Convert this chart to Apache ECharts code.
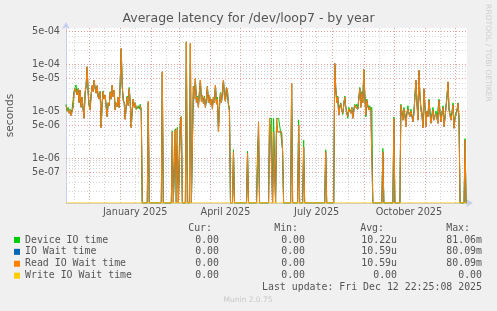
<!DOCTYPE html>
<html>
<head>
<meta charset="utf-8">
<script src="https://cdn.jsdelivr.net/npm/echarts@6/dist/echarts.min.js"></script>
<style>
  html, body { margin: 0; padding: 0; background: #f0f0f0; }
  #chart { width: 497px; height: 311px; }
</style>
</head>
<body>
<div id="chart"></div>
<script>
// sample day, counted from 2024-11-08
const days = [
  0, 1, 2, 3, 4, 5, 6, 7, 8, 9, 10, 11, 12, 13, 14, 15, 16, 17, 18, 19,
  20, 21, 22, 23, 24, 25, 26, 27, 28, 29, 30, 31, 32, 33, 34, 35, 36, 37, 38, 39,
  40, 41, 42, 43, 44, 45, 46, 47, 48, 49, 50, 51, 52, 53, 54, 55, 56, 57, 58, 59,
  60, 61, 62, 63, 64, 65, 66, 67, 68, 69, 70, 71, 72, 73, 74, 75,
  76, 81, 82, 83, 95, 96, 97, 105, 106, 107, 108, 109, 110, 111, 112, 113, 114, 115, 116, 119,
  120, 121, 123, 124, 125, 126,
  127, 128, 129, 130, 131, 132, 133, 134, 135, 136, 137, 138, 139, 140, 141, 142, 143, 144, 145, 146,
  147, 148, 149, 150, 151, 152, 153, 154, 155, 156, 157, 158, 159, 160, 161, 162, 163,
  164, 166, 167, 168, 180, 181, 182, 190, 191, 192, 193, 202,
  203, 204, 205, 206, 207, 208, 209, 210, 211, 212, 213, 214, 215, 216, 217,
  224, 225, 226, 231, 232, 233, 236, 237, 238, 258, 259, 260, 267,
  268, 269, 270, 271, 272, 273, 274, 275, 276, 277, 278, 279, 280, 281, 282, 283, 284, 285, 286, 287,
  288, 289, 290, 291, 292, 293, 294, 295, 296, 297, 298, 299, 300, 301, 302, 303, 304, 305,
  306, 315, 316, 317, 326, 327, 328, 333,
  334, 335, 336, 337, 338, 339, 340, 341, 342, 343, 344, 345, 346, 347, 348, 349, 350, 351, 352, 353,
  354, 355, 356, 357, 358, 359, 360, 361, 362, 363, 364, 365, 366, 367, 368, 369, 370, 371, 372, 373,
  374, 375, 376, 377, 378, 379, 380, 381, 382, 383, 384, 385, 386, 387, 388, 389, 390, 391, 392,
  393, 397, 398, 399, 400
];

// IO wait time (seconds) - read IO wait is the same curve
const ioWait = [
  1.3e-5, 1.1e-5, 1.2e-5, 9e-6, 1.1e-5, 8e-6, 1.0e-5, 1.2e-5, 2.5e-5, 3.0e-5, 3.3e-5, 2.2e-5, 3.0e-5, 1.5e-5, 2.8e-5, 1.2e-5, 2.0e-5, 1.1e-5, 7e-6, 2.5e-5,
  3.5e-5, 8.8e-5, 2.5e-5, 1.3e-5, 1.05e-5, 2.2e-5, 3.5e-5, 2.6e-5, 4.6e-5, 3.0e-5, 2.4e-5, 3.5e-5, 2.0e-5, 1.8e-5, 2.6e-5, 4.4e-6, 1.5e-5, 2.6e-5, 1.8e-5, 2.2e-5,
  1.2e-5, 7.6e-6, 1.5e-5, 1.3e-5, 2.5e-5, 1.8e-5, 3.6e-5, 2.0e-5, 2.8e-5, 1.05e-5, 1.5e-5, 1.24e-5, 2.0e-5, 1.2e-5, 4e-5, 2.16e-4, 3.5e-5, 1.7e-5, 1.5e-5, 6.7e-6,
  1.3e-5, 2.0e-5, 1.3e-5, 3.0e-5, 1.5e-5, 4.4e-6, 1.1e-5, 1.8e-5, 1.2e-5, 1.5e-5, 1.1e-5, 1.05e-5, 1.2e-5, 1.1e-5, 1.3e-5, 1.05e-5,
  0, 0, 1.6e-5, 0, 0, 6.9e-5, 0, 0, 3.6e-6, 0, 0, 4e-6, 0, 4.2e-6, 0, 0, 5.6e-6, 7.6e-6, 0, 0,
  3.0e-4, 0, 0, 2.76e-4, 0, 0,
  3.3e-5, 1.8e-5, 5e-5, 1.5e-5, 2e-5, 1.2e-5, 2.5e-5, 4.6e-5, 1.6e-5, 2.2e-5, 1.45e-5, 2.0e-5, 1.2e-5, 1.8e-5, 3.3e-5, 1.5e-5, 2.2e-5, 1.34e-5, 1.8e-5, 1.1e-5,
  2.0e-5, 1.5e-5, 3.6e-5, 1.4e-5, 1.8e-5, 3.6e-6, 1.2e-5, 2.4e-5, 1.5e-5, 2.6e-5, 4.6e-5, 2.0e-5, 1.6e-5, 3.2e-5, 2.8e-5, 1.34e-5, 1.0e-5,
  0, 0, 1.35e-6, 0, 0, 1.26e-6, 0, 0, 0, 5.9e-6, 0, 0,
  7e-6, 3.6e-6, 3.6e-6, 0, 3.6e-6, 3.6e-6, 0, 7e-6, 3.6e-6, 3.6e-6, 3.6e-6, 3.6e-6, 3.6e-6, 1.35e-6, 0,
  0, 3.9e-5, 0, 0, 5e-6, 0, 0, 1.7e-6, 0, 0, 1.35e-6, 0, 0,
  1.04e-4, 3e-5, 1.5e-5, 2e-5, 8.2e-6, 1.2e-5, 1.45e-5, 1.0e-5, 9e-6, 1.3e-5, 2e-5, 1.2e-5, 9e-6, 7.6e-6, 1.1e-5, 1.1e-5, 9e-6, 1.2e-5, 7e-6, 1.0e-5,
  1.34e-5, 1.2e-5, 1.3e-5, 1.1e-5, 1.8e-5, 3e-5, 1.2e-5, 2.5e-5, 1.5e-5, 7.7e-5, 2.2e-5, 8.2e-6, 1.7e-5, 1.3e-5, 1.05e-5, 1.2e-5, 1.0e-5, 1.1e-5,
  0, 0, 1.35e-6, 0, 0, 7e-6, 0, 0,
  1.34e-5, 9e-6, 6.4e-6, 1.1e-5, 8e-6, 4.6e-6, 9e-6, 1.1e-5, 9e-6, 7.6e-6, 1.0e-5, 8e-6, 5.9e-6, 9e-6, 2e-5, 4.6e-5, 1.5e-5, 6.4e-6, 7.4e-5, 2.0e-5,
  1.1e-5, 8e-6, 4.4e-6, 3e-5, 1.2e-5, 4.6e-6, 1.0e-5, 7.6e-6, 1.7e-5, 9e-6, 5.5e-6, 8e-6, 1.05e-5, 6.4e-6, 8e-6, 9e-6, 7e-6, 5.5e-6, 1.7e-5, 9e-6,
  5.9e-6, 9e-6, 1.2e-5, 4.6e-6, 7e-6, 7.6e-6, 2e-5, 4.2e-5, 1.05e-5, 8e-6, 6.4e-6, 9e-6, 1.34e-5, 4.3e-6, 7e-6, 7.6e-6, 1.0e-5, 1.45e-5, 6.4e-6,
  0, 0, 2.4e-6, 0, 0
];

// device IO time (seconds)
const deviceIO = [
  1.4e-5, 1.0e-5, 1.2e-5, 1.0e-5, 1.1e-5, 9e-6, 1.1e-5, 1.2e-5, 2.7e-5, 3.2e-5, 3.6e-5, 2.2e-5, 3.0e-5, 1.6e-5, 2.8e-5, 1.3e-5, 2.0e-5, 1.1e-5, 7.5e-6, 2.4e-5,
  3.4e-5, 8.5e-5, 2.6e-5, 1.4e-5, 1.1e-5, 2.3e-5, 3.3e-5, 2.7e-5, 4.4e-5, 3.1e-5, 2.5e-5, 3.4e-5, 2.0e-5, 1.9e-5, 2.6e-5, 4.8e-6, 1.5e-5, 2.7e-5, 1.8e-5, 2.2e-5,
  1.3e-5, 8e-6, 1.5e-5, 1.3e-5, 2.6e-5, 1.8e-5, 3.4e-5, 2.1e-5, 2.7e-5, 1.1e-5, 1.5e-5, 1.3e-5, 2.0e-5, 1.2e-5, 3.8e-5, 2.1e-4, 3.6e-5, 1.8e-5, 1.5e-5, 7e-6,
  1.3e-5, 2.1e-5, 1.4e-5, 3.2e-5, 1.5e-5, 4.6e-6, 1.1e-5, 1.8e-5, 1.3e-5, 1.5e-5, 1.1e-5, 1.2e-5, 1.3e-5, 1.1e-5, 1.4e-5, 1.0e-5,
  0, 0, 1.5e-5, 0, 0, 6.5e-5, 0, 0, 3.8e-6, 0, 0, 4.2e-6, 0, 4.5e-6, 0, 0, 6.5e-6, 7.6e-6, 0, 0,
  2.9e-4, 0, 0, 2.7e-4, 0, 0,
  3.4e-5, 2.0e-5, 4.8e-5, 1.6e-5, 2.1e-5, 1.3e-5, 2.5e-5, 4.5e-5, 1.7e-5, 2.2e-5, 1.5e-5, 2.1e-5, 1.2e-5, 1.9e-5, 3.4e-5, 1.6e-5, 2.2e-5, 1.4e-5, 1.8e-5, 1.3e-5,
  2.0e-5, 1.6e-5, 3.5e-5, 1.5e-5, 2.0e-5, 4e-6, 1.3e-5, 2.5e-5, 1.6e-5, 2.7e-5, 4.4e-5, 2.2e-5, 1.7e-5, 3.0e-5, 2.9e-5, 1.4e-5, 1.2e-5,
  0, 0, 1.5e-6, 0, 0, 1.4e-6, 0, 0, 1.7e-6, 3e-6, 0, 0,
  7e-6, 7e-6, 7e-6, 0, 7e-6, 7e-6, 0, 7e-6, 7e-6, 7e-6, 7e-6, 3.6e-6, 3.6e-6, 1.5e-6, 0,
  0, 3.7e-5, 0, 0, 6.5e-6, 0, 0, 2.4e-6, 0, 0, 1.5e-6, 0, 0,
  9.8e-5, 3.2e-5, 1.6e-5, 2.1e-5, 9e-6, 1.3e-5, 1.5e-5, 1.1e-5, 8.5e-6, 1.4e-5, 2.1e-5, 1.2e-5, 1.0e-5, 7e-6, 1.2e-5, 1.1e-5, 9.5e-6, 1.2e-5, 7.5e-6, 1.1e-5,
  1.4e-5, 1.2e-5, 1.4e-5, 1.1e-5, 1.9e-5, 3.2e-5, 1.3e-5, 2.6e-5, 1.6e-5, 7.3e-5, 2.3e-5, 7.5e-6, 1.8e-5, 1.3e-5, 1.1e-5, 1.3e-5, 1.0e-5, 1.2e-5,
  0, 0, 1.6e-6, 0, 0, 7.5e-6, 0, 0,
  1.4e-5, 1.0e-5, 7e-6, 1.2e-5, 8.5e-6, 6e-6, 9e-6, 1.3e-5, 9e-6, 8e-6, 1.1e-5, 8e-6, 6.4e-6, 1.0e-5, 2.1e-5, 4.4e-5, 1.6e-5, 7e-6, 7.0e-5, 2.2e-5,
  1.2e-5, 9e-6, 5e-6, 2.9e-5, 1.3e-5, 5.5e-6, 1.0e-5, 8e-6, 1.8e-5, 1.0e-5, 6.5e-6, 9e-6, 1.2e-5, 7e-6, 8e-6, 1.0e-5, 7e-6, 6.5e-6, 1.8e-5, 1.0e-5,
  6.5e-6, 9e-6, 1.3e-5, 5.5e-6, 8e-6, 8e-6, 2.2e-5, 4.0e-5, 1.1e-5, 9e-6, 7e-6, 1.0e-5, 1.5e-5, 5e-6, 8e-6, 8e-6, 1.1e-5, 1.5e-5, 7e-6,
  0, 0, 2.6e-6, 0, 0
];

// write IO wait stays at zero for the whole year
const writeDays = [0, 400];
const writeWait = [0, 0];

const seriesNames = ['Device IO time', 'IO Wait time', 'Read IO Wait time', 'Write IO Wait time'];
const seriesColors = ['#00cc00', '#0066b3', '#ff8000', '#ffcc00'];

const statCur = ['0.00', '0.00', '0.00', '0.00'];
const statMin = ['0.00', '0.00', '0.00', '0.00'];
const statAvg = ['10.22u', '10.59u', '10.59u', '0.00'];
const statMax = ['81.06m', '80.09m', '80.09m', '0.00'];

const yLabelValues = [5e-7, 1e-6, 5e-6, 1e-5, 5e-5, 1e-4, 5e-4];
const xLabelDates = [[2025, 0, 16], [2025, 3, 16], [2025, 6, 16], [2025, 9, 16]];
const monthNames = ['January', 'February', 'March', 'April', 'May', 'June', 'July',
  'August', 'September', 'October', 'November', 'December'];

const DAY = 86400000;
const t0 = new Date(2024, 10, 8).getTime();
const xMin = new Date(2024, 10, 7, 22, 25).getTime();
const xMax = new Date(2025, 11, 12, 22, 25).getTime();
const yMin = 1.1e-7;
const yMax = 5.9e-4;

// zero can't sit on a log axis, rrdtool puts it on the bottom edge
function toPoints(ds, vs) {
  return ds.map((d, i) => [t0 + d * DAY, vs[i] > 0 ? vs[i] : yMin]);
}

// grid lines (rrdtool style)
const majorColor = '#e6a0a0';
const minorColor = '#d2d2d2';
let gridLines = [];
function hLine(v, color) {
  gridLines.push([{ coord: [xMin, v], lineStyle: { color: color } }, { coord: [xMax, v] }]);
}
for (let e = -7; e <= -4; e++) {
  [2, 3, 4, 6, 7, 8, 9].forEach(k => {
    const v = k * Math.pow(10, e);
    if (v > yMin && v < yMax) hLine(v, minorColor);
  });
}
yLabelValues.forEach(v => hLine(v, majorColor));
for (let m = 10; m <= 22; m++) {
  const mid = new Date(2024, m, 16).getTime();
  if (mid > xMin && mid < xMax) gridLines.push({ xAxis: mid, lineStyle: { color: minorColor } });
  const first = new Date(2024, m + 1, 1).getTime();
  if (first > xMin && first < xMax) gridLines.push({ xAxis: first, lineStyle: { color: majorColor } });
}

function expLabel(v) {
  const parts = Number(v).toExponential(0).split('e');
  const ex = parseInt(parts[1], 10);
  return parts[0] + 'e' + (ex < 0 ? '-' : '+') + String(Math.abs(ex)).padStart(2, '0');
}

const chart = echarts.init(document.getElementById('chart'));

const lineSeries = (name, i, ds, vs) => ({
  name: name,
  type: 'line',
  data: toPoints(ds, vs),
  symbol: 'none',
  showSymbol: false,
  clip: true,
  z: 3,
  lineStyle: { width: 1, color: seriesColors[i] },
  itemStyle: { color: seriesColors[i] },
  emphasis: { disabled: true }
});

// stats table texts
const mono = 'DejaVu Sans Mono';
const tableFont = '9.9px "' + mono + '"';
let texts = [];
const colRight = [219, 305, 397, 482];
const headRight = [212, 298, 384, 470];
['Cur:', 'Min:', 'Avg:', 'Max:'].forEach((h, j) => {
  texts.push({ type: 'text', x: headRight[j], y: 228,
    style: { text: h, font: tableFont, fill: '#555', textAlign: 'right', textVerticalAlign: 'middle' } });
});
const rowY = [240, 251.9, 263.8, 275.7];
[statCur, statMin, statAvg, statMax].forEach((col, j) => {
  col.forEach((s, i) => {
    texts.push({ type: 'text', x: colRight[j], y: rowY[i],
      style: { text: s, font: tableFont, fill: '#555', textAlign: 'right', textVerticalAlign: 'middle' } });
  });
});
texts.push({ type: 'text', x: 482, y: 287.7,
  style: { text: 'Last update: Fri Dec 12 22:25:08 2025', font: tableFont, fill: '#555',
    textAlign: 'right', textVerticalAlign: 'middle' } });
texts.push({ type: 'text', x: 248, y: 300,
  style: { text: 'Munin 2.0.75', font: '7.5px "DejaVu Sans"', fill: '#c8c8c8',
    textAlign: 'center', textVerticalAlign: 'middle' } });
texts.push({ type: 'text', x: 488, y: 53, rotation: -Math.PI / 2,
  style: { text: 'RRDTOOL / TOBI OETIKER', font: '7.6px "DejaVu Sans"', fill: '#cfcfcf',
    textAlign: 'center', textVerticalAlign: 'middle' } });

const axisArrow = { show: true, lineStyle: { color: '#c8cef2', width: 1 },
  symbol: ['none', 'arrow'], symbolSize: [6, 7], symbolOffset: [0, 6] };

const option = {
  backgroundColor: '#f0f0f0',
  animation: false,
  textStyle: { fontFamily: 'DejaVu Sans' },
  title: {
    text: 'Average latency for /dev/loop7 - by year',
    left: 'center',
    top: 12,
    padding: 0,
    textStyle: { fontSize: 12.5, fontWeight: 'normal', color: '#555', fontFamily: 'DejaVu Sans' }
  },
  grid: {
    left: 66, right: 30, top: 28, bottom: 108,
    outerBoundsMode: 'none',
    containLabel: false,
    show: true, backgroundColor: '#ffffff', borderWidth: 0
  },
  legend: {
    orient: 'vertical',
    left: 14,
    top: 234,
    padding: 0,
    itemGap: 0,
    itemWidth: 6,
    itemHeight: 6,
    icon: 'rect',
    selectedMode: false,
    data: seriesNames,
    textStyle: { fontFamily: mono, fontSize: 9.9, color: '#555', lineHeight: 11.9 }
  },
  xAxis: [
    {
      type: 'time',
      min: xMin,
      max: xMax,
      axisLine: axisArrow,
      axisTick: { show: false },
      splitLine: { show: false },
      axisLabel: { show: false }
    },
    {
      // label-only axis on the same scale, months labelled mid-month like rrdtool
      type: 'value',
      min: xMin,
      max: xMax,
      position: 'bottom',
      axisLine: { show: false },
      axisTick: { show: false },
      splitLine: { show: false },
      axisLabel: {
        customValues: xLabelDates.map(d => new Date(d[0], d[1], d[2]).getTime()),
        margin: 4,
        color: '#555',
        fontSize: 9.7,
        fontFamily: 'DejaVu Sans',
        formatter: function (v) {
          const d = new Date(v);
          return monthNames[d.getMonth()] + ' ' + d.getFullYear();
        }
      }
    }
  ],
  yAxis: {
    type: 'log',
    logBase: 10,
    min: yMin,
    max: yMax,
    name: 'seconds',
    nameLocation: 'middle',
    nameGap: 50,
    nameTextStyle: { color: '#555', fontSize: 10.7, fontFamily: 'DejaVu Sans' },
    axisLine: axisArrow,
    axisTick: { show: false },
    splitLine: { show: false },
    minorTick: { show: false },
    minorSplitLine: { show: false },
    axisLabel: {
      customValues: yLabelValues,
      margin: 6,
      color: '#555',
      fontSize: 9.7,
      fontFamily: 'DejaVu Sans',
      formatter: expLabel
    }
  },
  graphic: texts,
  series: [
    {
      name: 'grid',
      type: 'line',
      data: [],
      silent: true,
      markLine: {
        silent: true,
        z: 1,
        symbol: ['none', 'none'],
        label: { show: false },
        emphasis: { disabled: true },
        lineStyle: { type: [1, 2], width: 1 },
        data: gridLines
      }
    },
    lineSeries(seriesNames[0], 0, days, deviceIO),
    lineSeries(seriesNames[1], 1, days, ioWait),
    lineSeries(seriesNames[2], 2, days, ioWait),
    lineSeries(seriesNames[3], 3, writeDays, writeWait)
  ]
};

chart.setOption(option);
</script>
</body>
</html>
